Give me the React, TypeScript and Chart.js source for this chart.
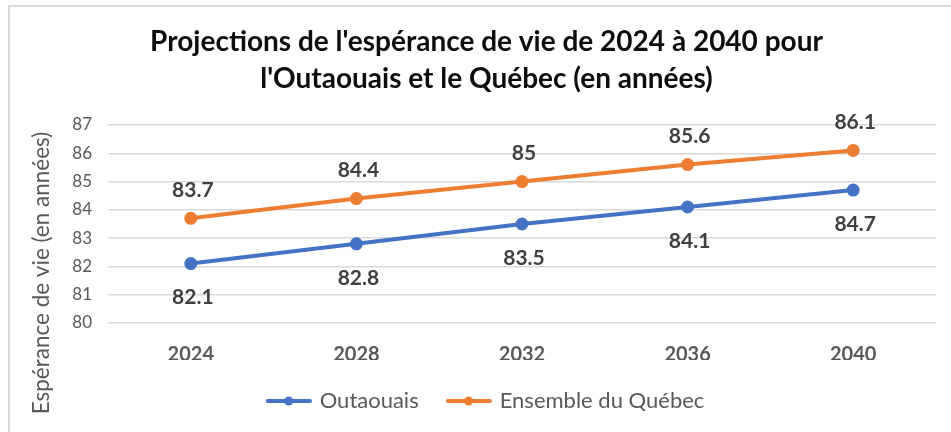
import React, { useEffect, useRef } from "react";
import { Chart, registerables } from "chart.js";

Chart.register(...registerables);

const categories = ["2024", "2028", "2032", "2036", "2040"];
const outaouais = [82.1, 82.8, 83.5, 84.1, 84.7];
const quebec = [83.7, 84.4, 85, 85.6, 86.1];
const seriesNames = ["Outaouais", "Ensemble du Québec"];
const titleLines = [
  "Projections de l'espérance de vie de 2024 à 2040 pour",
  "l'Outaouais et le Québec (en années)",
];
const yAxisTitle = "Espérance de vie (en années)";
const yMin = 80;
const yMax = 87;
const yStep = 1;

const FONT = "Lato, 'Open Sans', sans-serif";
const BLUE = "#4472C4";
const ORANGE = "#ED7D31";
const TEXT_GRAY = "#595959";

function makeSample(color: string): HTMLCanvasElement {
  const c = document.createElement("canvas");
  c.width = 46;
  c.height = 12;
  const ctx = c.getContext("2d")!;
  ctx.strokeStyle = color;
  ctx.lineWidth = 4;
  ctx.lineCap = "round";
  ctx.beginPath();
  ctx.moveTo(2, 6);
  ctx.lineTo(44, 6);
  ctx.stroke();
  ctx.fillStyle = color;
  ctx.beginPath();
  ctx.arc(23, 6, 4.5, 0, Math.PI * 2);
  ctx.fill();
  return c;
}

const valueLabels = {
  id: "valueLabels",
  afterDatasetsDraw(chart: any) {
    const ctx = chart.ctx;
    ctx.save();
    ctx.font = `bold 21px ${FONT}`;
    ctx.fillStyle = "#404040";
    ctx.textAlign = "center";
    ctx.textBaseline = "middle";
    chart.data.datasets.forEach((ds: any, i: number) => {
      const meta = chart.getDatasetMeta(i);
      const off = i === 0 ? 34 : -28;
      meta.data.forEach((pt: any, j: number) => {
        ctx.fillText(String(ds.data[j]), pt.x + 2, pt.y + off);
      });
    });
    ctx.restore();
  },
};

// Y-axis title, drawn rotated beside the y scale (Excel centres it lower than the plot)
const yTitlePlugin = {
  id: "yTitle",
  afterDraw(chart: any) {
    const ctx = chart.ctx;
    const ys = chart.scales.y;
    ctx.save();
    ctx.font = `22.5px ${FONT}`;
    ctx.fillStyle = TEXT_GRAY;
    ctx.textAlign = "center";
    ctx.textBaseline = "middle";
    ctx.translate(ys.left + 12, (ys.top + ys.bottom) / 2 + 49);
    ctx.rotate(-Math.PI / 2);
    ctx.fillText(yAxisTitle, 0, 0);
    ctx.restore();
  },
};

export default function App() {
  const ref = useRef<HTMLCanvasElement>(null);

  useEffect(() => {
    if (!ref.current) return;
    const samples = [makeSample(BLUE), makeSample(ORANGE)];
    const chart = new Chart(ref.current, {
      type: "line",
      data: {
        labels: categories,
        datasets: [
          {
            label: seriesNames[0],
            data: outaouais,
            borderColor: BLUE,
            backgroundColor: BLUE,
            borderWidth: 4,
            pointRadius: 4.5,
            pointHoverRadius: 4.5,
            tension: 0,
          },
          {
            label: seriesNames[1],
            data: quebec,
            borderColor: ORANGE,
            backgroundColor: ORANGE,
            borderWidth: 4,
            pointRadius: 4.5,
            pointHoverRadius: 4.5,
            tension: 0,
          },
        ],
      },
      options: {
        responsive: false,
        animation: false,
        devicePixelRatio: 1,
        layout: { padding: { left: 30, right: 8, top: 0, bottom: 10 } },
        plugins: {
          title: {
            display: true,
            text: titleLines,
            color: "#0d0d0d",
            font: { family: FONT, size: 28, weight: "bold", lineHeight: 37 / 28 },
            padding: { top: 23, bottom: 28 },
          },
          legend: {
            display: true,
            position: "bottom",
            labels: {
              usePointStyle: true,
              pointStyleWidth: 40,
              boxHeight: 12,
              padding: 30,
              color: TEXT_GRAY,
              font: { family: FONT, size: 22 },
              generateLabels: (ch: any) => {
                const items = Chart.defaults.plugins.legend.labels.generateLabels(ch);
                return items.map((it: any, i: number) => ({ ...it, pointStyle: samples[i] }));
              },
            },
          },
          tooltip: { enabled: false },
        },
        scales: {
          x: {
            offset: true,
            grid: { display: false, drawTicks: false },
            border: { display: false },
            ticks: {
              color: TEXT_GRAY,
              padding: 20,
              font: { family: FONT, size: 20, weight: "bold" },
            },
            afterFit: (s: any) => {
              s.height = 37;
            },
          },
          y: {
            min: yMin,
            max: yMax,
            grid: { color: "#d9d9d9", lineWidth: 1.5, drawTicks: false },
            border: { display: false },
            ticks: {
              stepSize: yStep,
              color: TEXT_GRAY,
              padding: 16,
              font: { family: FONT, size: 17 },
            },
            title: { display: false, text: yAxisTitle },
            afterFit: (s: any) => {
              s.width = 78;
            },
          },
          yr: {
            position: "right",
            display: true,
            grid: { display: false, drawTicks: false },
            border: { display: false },
            ticks: { display: false },
            afterFit: (s: any) => {
              s.width = 7;
            },
          },
        },
      } as any,
      plugins: [valueLabels, yTitlePlugin],
    });
    return () => chart.destroy();
  }, []);

  return (
    <div style={{ position: "absolute", left: 0, top: 0, width: 951, height: 432, background: "#fff" }}>
      <div
        style={{
          position: "absolute",
          left: 8,
          top: 5,
          width: 941,
          height: 425,
          borderLeft: "2px solid #d9d9d9",
          borderTop: "2px solid #d9d9d9",
        }}
      />
      <canvas ref={ref} width={951} height={432} style={{ position: "absolute", left: 0, top: 0 }} />
    </div>
  );
}
